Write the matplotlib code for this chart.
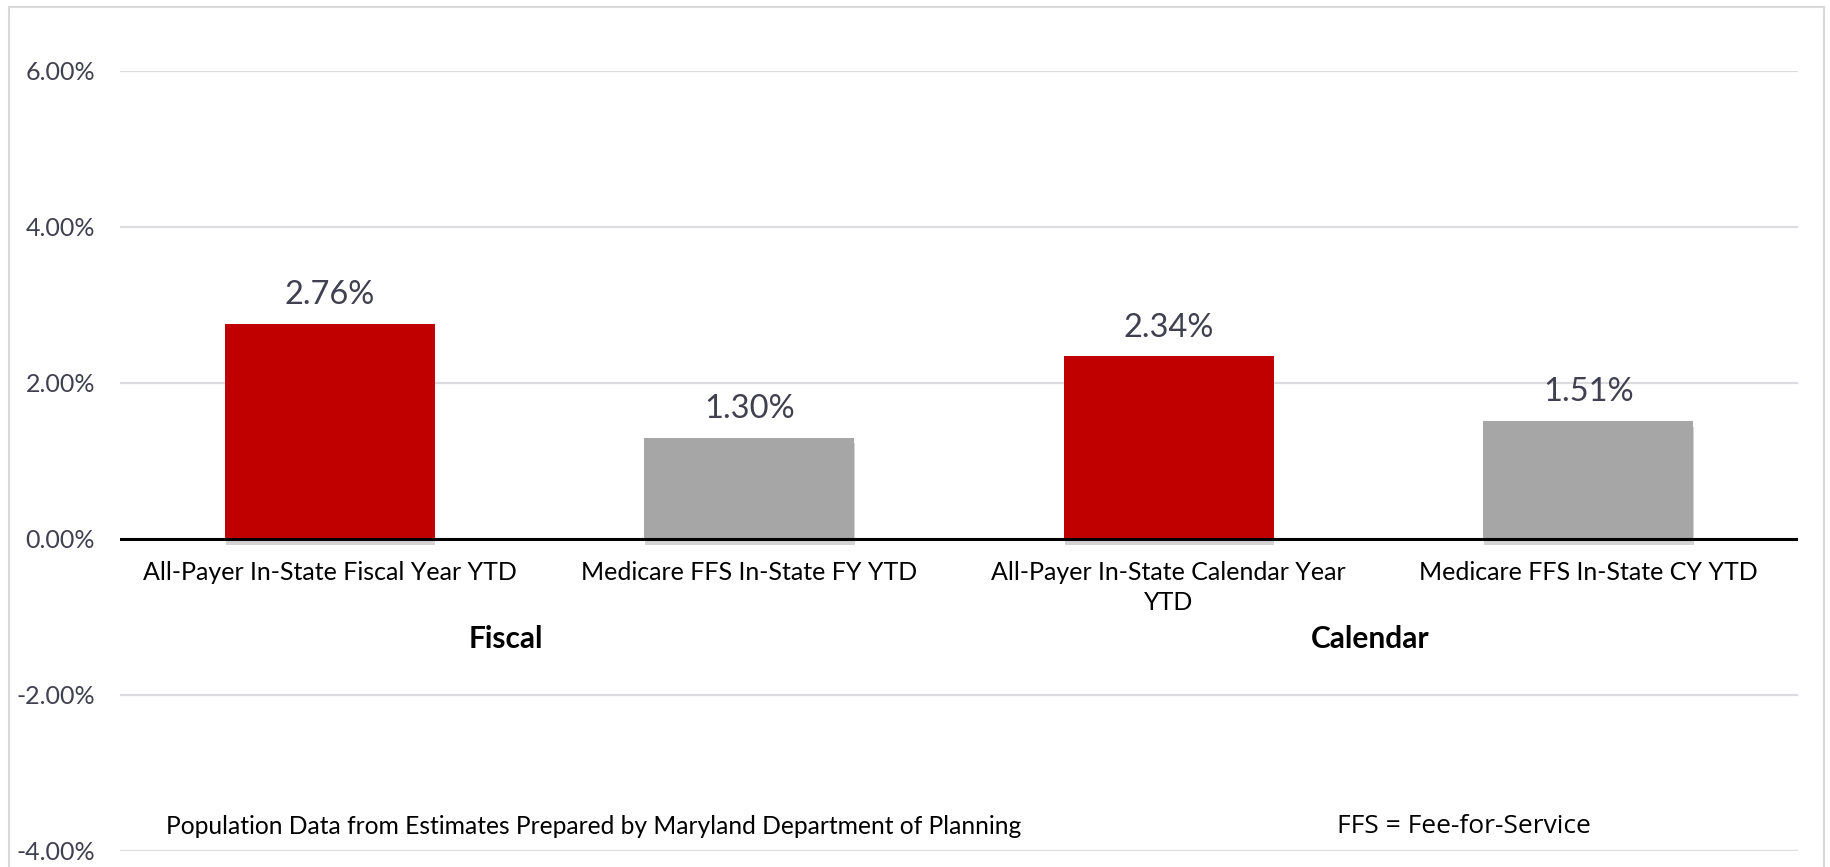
import matplotlib.pyplot as plt
import matplotlib.patches as mpatches
import matplotlib.patheffects as pe
from matplotlib.ticker import FuncFormatter

categories = ['All-Payer In-State Fiscal Year YTD',
              'Medicare FFS In-State FY YTD',
              'All-Payer In-State Calendar Year\nYTD',
              'Medicare FFS In-State CY YTD']
growth = [2.76, 1.30, 2.34, 1.51]
bar_colors = ['#C00000', '#A6A6A6', '#C00000', '#A6A6A6']
groups = ['Fiscal', 'Calendar']
group_pos = [0.42, 2.48]
yticks = [-4, -2, 0, 2, 4, 6]

TICK_COLOR = '#404050'
W, H = 1831, 867

fig = plt.figure(figsize=(W / 100, H / 100), dpi=100)
ax = fig.add_axes([120 / W, (H - 851) / H, (1798 - 120) / W, (851 - 71) / H])

# light outer frame round the chart area
fig.patches.append(mpatches.Rectangle((9 / W, -0.02), (1824 - 9) / W, (H - 7) / H + 0.02,
                                      transform=fig.transFigure, fill=False,
                                      edgecolor='#D9D9D9', linewidth=1.5))

x = list(range(len(categories)))
bars = ax.bar(x, growth, width=0.5, color=bar_colors, zorder=3)
for b in bars:
    b.set_path_effects([pe.SimplePatchShadow(offset=(0.5, -4), shadow_rgbFace='#707070', alpha=0.3),
                        pe.Normal()])

ax.set_xlim(-0.5, len(categories) - 0.5)
ax.set_ylim(-4, 6)
ax.set_yticks(yticks)
ax.yaxis.set_major_formatter(FuncFormatter(lambda v, _: f'{v:.2f}%'))
ax.tick_params(axis='y', length=0, pad=18, labelsize=18, labelcolor=TICK_COLOR)
ax.set_xticks([])
for lbl in ax.get_yticklabels():
    lbl.set_fontfamily('Lato')

for s in ax.spines.values():
    s.set_visible(False)
ax.grid(axis='y', color='#DCDCE0', linewidth=1.6, zorder=0)
ax.axhline(0, color='black', linewidth=2.2, zorder=4)

# value labels above bars
for xi, v in zip(x, growth):
    ax.annotate(f'{v:.2f}%', (xi, v), xytext=(0, 10), textcoords='offset points',
                ha='center', va='bottom', fontsize=23.5, family='Lato', color=TICK_COLOR)

# category labels under the zero line
for xi, name in zip(x, categories):
    ax.annotate(name, (xi, 0), xytext=(0, -16), textcoords='offset points',
                ha='center', va='top', fontsize=18, family='Lato', color='black',
                linespacing=1.35)

for gx, g in zip(group_pos, groups):
    ax.text(gx, -1.28, g, ha='center', va='center', fontsize=21.5, family='Lato',
            fontweight='bold', color='black')

ax.text(-0.39, -3.69, 'Population Data from Estimates Prepared by Maryland Department of Planning',
        ha='left', va='center', fontsize=17.7, family='Lato', color='black')
ax.text(2.40, -3.69, 'FFS = Fee-for-Service',
        ha='left', va='center', fontsize=19, family='Open Sans', color='black')

fig.savefig('out.png', dpi=100)
